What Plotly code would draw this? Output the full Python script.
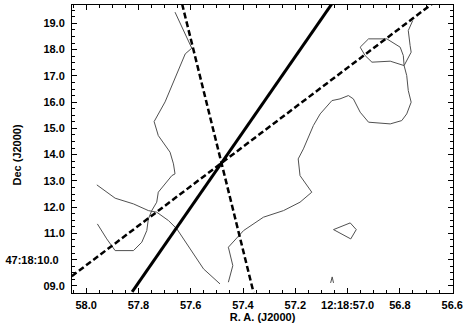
import plotly.graph_objects as go

# ---------------- data (R.A. seconds of 12:18:xx, Dec arcsec of 47:18:xx) ----------------
ra_ticks = [58.0, 57.8, 57.6, 57.4, 57.2, 57.0, 56.8, 56.6]
ra_ticktext = ["58.0", "57.8", "57.6", "57.4", "57.2", "12:18:57.0", "56.8", "56.6"]
dec_ticks = [9, 10, 11, 12, 13, 14, 15, 16, 17, 18, 19]
dec_ticktext = ["09.0", "47:18:10.0\u00a0\u00a0", "11.0", "12.0", "13.0", "14.0",
                "15.0", "16.0", "17.0", "18.0", "19.0"]

# straight lines (end points)
solid_ra = [57.824, 57.055]
solid_dec = [8.771, 19.819]
dash1_ra = [58.055, 56.672]
dash1_dec = [9.370, 19.781]
dash2_ra = [57.633, 57.360]
dash2_dec = [19.743, 8.760]

# contour lines
c1_ra = [57.660, 57.596, 57.621, 57.666, 57.698, 57.740, 57.724, 57.679, 57.666, 57.660,
         57.672, 57.724, 57.730, 57.749, 57.762, 57.768, 57.787, 57.819, 57.889, 57.921, 57.957]
c1_dec = [19.427, 18.055, 17.838, 16.760, 16.010, 15.259, 14.726, 14.093, 13.648, 13.267,
          13.202, 12.570, 12.189, 11.869, 11.552, 11.107, 10.665, 10.345, 10.345, 10.790, 11.362]

c2_ra = [57.959, 57.889, 57.819, 57.762, 57.730, 57.685, 57.653, 57.609, 57.551, 57.488]
c2_dec = [12.848, 12.341, 12.124, 11.869, 11.808, 11.488, 11.171, 10.535, 9.648, 9.076]

c3_ra = [56.751, 56.768, 56.761, 56.757, 56.784, 56.774, 56.768, 56.757, 56.774, 56.793,
         56.837, 56.920, 56.952, 56.978, 56.997, 57.029, 57.060, 57.105, 57.131, 57.169,
         57.189, 57.182, 57.137, 57.182, 57.245, 57.322, 57.398, 57.456, 57.439, 57.456]
c3_dec = [19.107, 18.726, 18.154, 17.903, 17.392, 17.011, 16.440, 15.998, 15.552, 15.297,
          15.171, 15.236, 15.617, 16.124, 16.250, 16.124, 16.059, 15.552, 15.107, 14.219,
          13.838, 13.202, 12.570, 12.189, 11.869, 11.617, 11.107, 10.474, 9.773, 9.141]

c4_ra = [56.784, 56.837, 56.907, 56.933, 56.952, 56.920, 56.850, 56.799, 56.787, 56.784]
c4_dec = [17.392, 17.560, 17.522, 17.773, 18.093, 18.410, 18.410, 18.093, 17.773, 17.392]

c5_ra = [57.054, 56.990, 56.967, 56.988, 57.054]
c5_dec = [11.145, 11.400, 11.145, 10.790, 11.145]

c6_ra = [57.065, 57.059, 57.054]
c6_dec = [9.114, 9.343, 9.114]

# ---------------- figure ----------------
fig = go.Figure()
contour_style = dict(color="#505050", width=1)
for xs, ys in [(c1_ra, c1_dec), (c2_ra, c2_dec), (c3_ra, c3_dec),
               (c4_ra, c4_dec), (c5_ra, c5_dec), (c6_ra, c6_dec)]:
    fig.add_trace(go.Scatter(x=xs, y=ys, mode="lines", line=contour_style,
                             hoverinfo="skip", showlegend=False))

fig.add_trace(go.Scatter(x=solid_ra, y=solid_dec, mode="lines",
                         line=dict(color="black", width=3), showlegend=False))
fig.add_trace(go.Scatter(x=dash1_ra, y=dash1_dec, mode="lines",
                         line=dict(color="black", width=2.5, dash="6px,3px"), showlegend=False))
fig.add_trace(go.Scatter(x=dash2_ra, y=dash2_dec, mode="lines",
                         line=dict(color="black", width=2.5, dash="6px,3px"), showlegend=False))

tickfont = dict(family="Liberation Sans, Arial, sans-serif", size=11, color="black", weight="bold")

fig.update_xaxes(
    range=[58.054, 56.597], tickmode="array", tickvals=ra_ticks, ticktext=ra_ticktext,
    ticks="inside", ticklen=5, tickwidth=1, tickcolor="black",
    minor=dict(dtick=0.05, tick0=0, ticks="inside", ticklen=3, tickcolor="black", showgrid=False),
    showline=True, linecolor="black", linewidth=1, mirror="ticks",
    showgrid=False, zeroline=False, tickfont=tickfont, ticklabelstandoff=2,
    title=dict(text="R. A. (J2000)", font=tickfont, standoff=3),
)
fig.update_yaxes(
    range=[8.73, 19.70], tickmode="array", tickvals=dec_ticks, ticktext=dec_ticktext,
    ticks="inside", ticklen=5, tickwidth=1, tickcolor="black",
    minor=dict(dtick=0.25, tick0=0, ticks="inside", ticklen=3, tickcolor="black", showgrid=False),
    showline=True, linecolor="black", linewidth=1, mirror="ticks",
    showgrid=False, zeroline=False, tickfont=tickfont, ticklabelstandoff=4,
)

fig.add_annotation(text="Dec (J2000)", textangle=-90, xref="paper", yref="paper",
                   x=-0.145, y=0.48, xanchor="center", yanchor="middle",
                   showarrow=False, font=tickfont)

fig.update_layout(
    width=463, height=328,
    margin=dict(l=72, r=10, t=5, b=35, autoexpand=False),
    paper_bgcolor="white", plot_bgcolor="white",
)

fig.write_html("out.html", config={"displayModeBar": False},
               post_script="document.body.style.margin='0px';document.body.style.padding='0px';")
